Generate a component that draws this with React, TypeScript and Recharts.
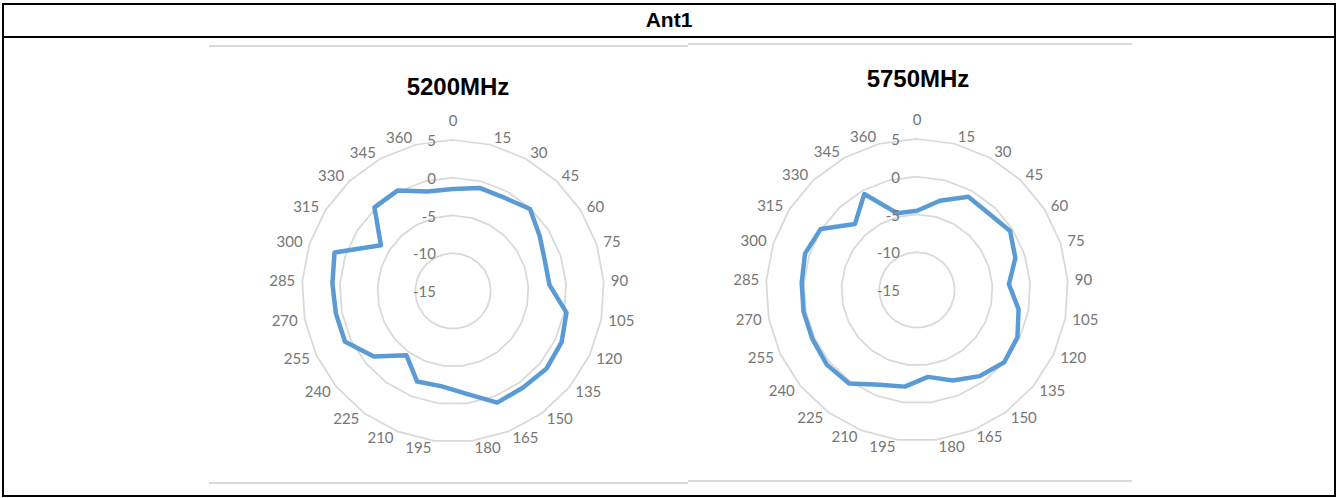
import { RadarChart, PolarGrid, PolarAngleAxis, PolarRadiusAxis, Radar } from 'recharts'

// azimuth categories in degrees (0 and 360 are both plotted, Excel style)
const angles = [0, 15, 30, 45, 60, 75, 90, 105, 120, 135, 150, 165, 180, 195, 210, 225, 240, 255, 270, 285, 300, 315, 330, 345, 360]

// gain in dBi per azimuth
const gain5200 = [-1.5, -0.9, -0.9, -0.1, -1.4, -2.2, -2.2, 0.3, 0.9, 1.1, 0.8, 0.9, -1.3, -2.3, -2.1, -4.5, -1.4, 0.8, 0.8, 1.0, 1.5, -3.7, 0.2, 0.2, -1.4]
const gain5750 = [-4.5, -2.8, -0.9, -1.1, -0.4, -1.3, -2.8, -1.3, -0.3, 0.0, -0.9, -2.1, -3.4, -2.1, -1.5, 0.3, 0.5, 0.3, 0.3, 0.3, 0.6, 0.1, -3.0, -0.5, -4.5]

const radiusDomain = [-15, 5]

const data = angles.map((a, i) => ({ angle: a, g5200: gain5200[i], g5750: gain5750[i] }))

const LABEL_GREY = '#767676'
const GRID_GREY = '#d9d9d9'
const LINE_BLUE = '#5b9bd5'
const LABEL_FONT = 'Lato, "Open Sans", sans-serif'
const LABEL_SIZE = 15
const OUTER_R = 151

// category labels sit just outside the outer ring, pushed away from it corner-first
function angleTick(cx: number, cy: number, r: number) {
  return (props: any) => {
    const i = props.index
    const a = (i * 2 * Math.PI) / angles.length
    const s = Math.sin(a)
    const c = Math.cos(a)
    const px = cx + r * s
    const py = cy - r * c
    let anchor: 'start' | 'middle' | 'end' = 'middle'
    let x = px
    if (s > 0.05) {
      anchor = 'start'
      x = px + 2 + 5 * s
    } else if (s < -0.05) {
      anchor = 'end'
      x = px - 2 + 5 * s
    }
    let y = py - 7 * c
    if (Math.abs(s) <= 0.05 && c > 0) y -= 12
    return (
      <text x={x} y={y} dy="0.35em" textAnchor={anchor} fill={LABEL_GREY} fontSize={LABEL_SIZE} fontFamily={LABEL_FONT}>
        {props.payload.value}
      </text>
    )
  }
}

const radiusTick = (props: any) => (
  <text x={props.x - 17} y={props.y} dy="0.4em" textAnchor="end" fill={LABEL_GREY} fontSize={LABEL_SIZE} fontFamily={LABEL_FONT}>
    {props.payload.value}
  </text>
)

interface PatternProps {
  left: number
  top: number
  width: number
  height: number
  cx: number
  cy: number
  dataKey: string
}

function Pattern({ left, top, width, height, cx, cy, dataKey }: PatternProps) {
  return (
    <div style={{ position: 'absolute', left, top, width, height }}>
      <RadarChart
        width={width}
        height={height}
        data={data}
        cx={cx}
        cy={cy}
        outerRadius={OUTER_R}
        margin={{ top: 0, right: 0, bottom: 0, left: 0 }}
      >
        <PolarGrid gridType="polygon" radialLines={false} stroke={GRID_GREY} strokeWidth={1.75} />
        <PolarAngleAxis dataKey="angle" tick={angleTick(cx, cy, OUTER_R)} tickLine={false} axisLine={false} />
        <PolarRadiusAxis
          angle={90}
          domain={radiusDomain}
          tickCount={5}
          tick={radiusTick}
          axisLine={false}
          tickLine={false}
        />
        <Radar
          dataKey={dataKey}
          stroke={LINE_BLUE}
          strokeWidth={4.5}
          strokeLinejoin="round"
          fill="none"
          fillOpacity={0}
          dot={false}
          isAnimationActive={false}
        />
      </RadarChart>
    </div>
  )
}

const hLine = (left: number, top: number, width: number, color: string, h = 2) => (
  <div style={{ position: 'absolute', left, top, width, height: h, background: color }} />
)

const titleStyle = (centerX: number, centerY: number): React.CSSProperties => ({
  position: 'absolute',
  left: centerX - 100,
  top: centerY - 12,
  width: 200,
  height: 24,
  lineHeight: '24px',
  textAlign: 'center',
  fontFamily: '"Liberation Sans", Arial, sans-serif',
  fontWeight: 'bold',
  fontSize: 24,
  color: '#000',
})

export default function App() {
  return (
    <div style={{ position: 'absolute', left: 0, top: 0, width: 1338, height: 498, background: '#fff', overflow: 'hidden' }}>
      {/* table frame */}
      <div
        style={{
          position: 'absolute',
          left: 2,
          top: 3,
          width: 1334,
          height: 494,
          border: '2px solid #000',
          boxSizing: 'border-box',
        }}
      />
      {hLine(2, 36, 1334, '#000')}
      <div
        style={{
          position: 'absolute',
          left: 0,
          top: 9,
          width: 1338,
          height: 21,
          lineHeight: '21px',
          textAlign: 'center',
          fontFamily: '"Liberation Sans", Arial, sans-serif',
          fontWeight: 'bold',
          fontSize: 21,
        }}
      >
        Ant1
      </div>

      {/* chart area borders */}
      {hLine(209, 45, 479, GRID_GREY)}
      {hLine(688, 43, 444, GRID_GREY)}
      {hLine(209, 482, 479, GRID_GREY)}
      {hLine(688, 480, 444, GRID_GREY)}

      <div style={titleStyle(458, 87)}>5200MHz</div>
      <div style={titleStyle(918, 79)}>5750MHz</div>

      <Pattern left={209} top={46} width={479} height={436} cx={244} cy={245} dataKey="g5200" />
      <Pattern left={688} top={44} width={444} height={436} cx={229} cy={246} dataKey="g5750" />
    </div>
  )
}
